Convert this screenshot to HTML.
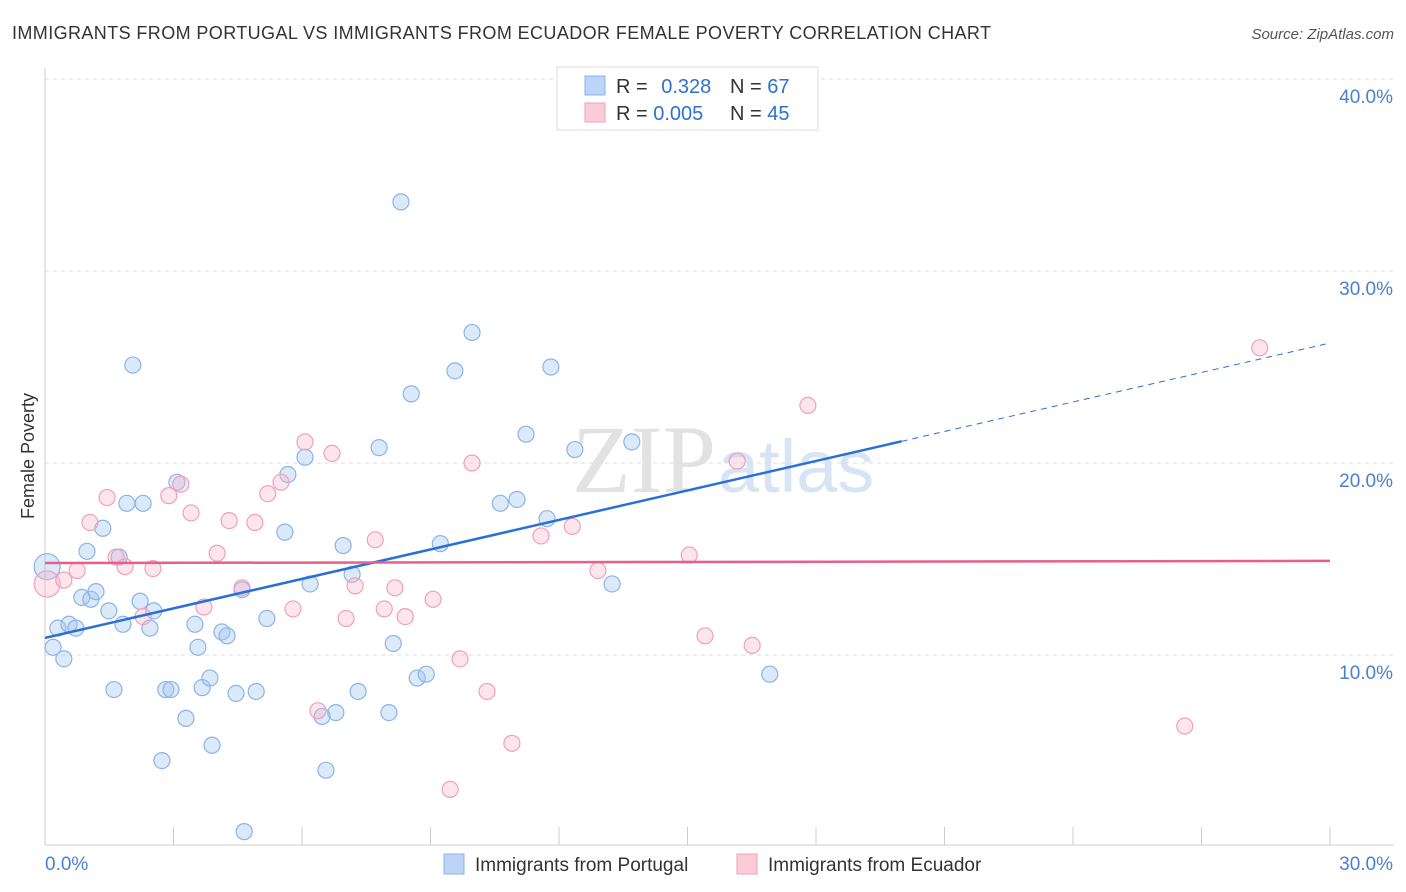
<!DOCTYPE html>
<html><head><meta charset="utf-8"><style>
body{margin:0;background:#fff;font-family:"Liberation Sans",sans-serif}
svg{display:block}
</style></head><body>
<svg id="chart" width="1406" height="892">
<text x="12" y="39" font-size="18" fill="#333" letter-spacing="0.4">IMMIGRANTS FROM PORTUGAL VS IMMIGRANTS FROM ECUADOR FEMALE POVERTY CORRELATION CHART</text>
<text x="1394" y="39" font-size="15" fill="#555" font-style="italic" text-anchor="end">Source: ZipAtlas.com</text>
<text x="34" y="456" font-size="18" fill="#333" text-anchor="middle" transform="rotate(-90 34 456)">Female Poverty</text>
<text x="716" y="492" font-size="96" fill="#e2e2e2" text-anchor="end" font-family="Liberation Serif,serif">ZIP</text>
<text x="718" y="492" font-size="74" fill="#d6e4f4">atlas</text>
<g id="grid"></g><g id="axes"></g><g id="pts"></g><g id="lines"></g>
<g>
<rect x="557" y="67" width="261" height="63" fill="#fff" stroke="#ddd"/>
<rect x="585" y="76" width="20" height="19" fill="#bcd4f5" stroke="#8ab4e8"/>
<rect x="585" y="103" width="20" height="19" fill="#fbcbd8" stroke="#f0a0b8"/>
<text x="616" y="93" font-size="20" fill="#333">R = <tspan fill="#2f6fd0" dx="8">0.328</tspan></text>
<text x="730" y="93" font-size="20" fill="#333">N = <tspan fill="#2f6fd0">67</tspan></text>
<text x="616" y="120" font-size="20" fill="#333">R = <tspan fill="#2f6fd0">0.005</tspan></text>
<text x="730" y="120" font-size="20" fill="#333">N = <tspan fill="#2f6fd0">45</tspan></text>
</g>
<g>
<rect x="444" y="854" width="20" height="20" fill="#bcd4f5" stroke="#8ab4e8"/>
<text x="475" y="871" font-size="19" fill="#333">Immigrants from Portugal</text>
<rect x="737" y="854" width="20" height="20" fill="#fbcbd8" stroke="#f0a0b8"/>
<text x="768" y="871" font-size="19" fill="#333">Immigrants from Ecuador</text>
</g>
</svg>
<script>
const blueX=[0.05,0.19,0.30,0.44,0.56,0.72,0.86,0.98,1.07,1.19,1.35,1.49,1.61,1.73,1.82,1.91,2.05,2.22,2.29,2.45,2.54,2.73,2.82,2.94,3.08,3.29,3.50,3.57,3.67,3.85,3.90,4.13,4.25,4.46,4.60,4.65,4.93,5.18,5.60,5.67,6.07,6.19,6.47,6.56,6.79,6.96,7.17,7.31,7.80,8.03,8.13,8.55,8.69,8.90,9.23,8.31,9.57,9.97,10.63,11.02,11.23,11.72,11.81,12.37,13.24,13.70,16.92];
const blueY=[14.6,10.4,11.4,9.8,11.6,11.4,13.0,15.4,12.9,13.3,16.6,12.3,8.2,15.1,11.6,17.9,25.1,12.8,17.9,11.4,12.3,4.5,8.2,8.2,19.0,6.7,11.6,10.4,8.3,8.8,5.3,11.2,11.0,8.0,13.4,0.8,8.1,11.9,16.4,19.4,20.3,13.7,6.8,4.0,7.0,15.7,14.2,8.1,20.8,7.0,10.6,23.6,8.8,9.0,15.8,33.6,24.8,26.8,17.9,18.1,21.5,17.1,25.0,20.7,13.7,21.1,9.0];
const pinkX=[0.05,0.44,0.75,1.05,1.45,1.66,1.87,2.29,2.52,2.89,3.17,3.41,3.71,4.02,4.30,4.60,4.90,5.20,5.51,5.79,6.07,6.37,6.70,7.03,7.24,7.71,7.92,8.17,8.41,9.06,9.46,9.69,9.97,10.32,10.90,11.58,12.31,12.91,15.04,15.41,16.16,16.51,17.81,26.61,28.36];
const pinkY=[13.7,13.9,14.4,16.9,18.2,15.1,14.6,12.0,14.5,18.3,18.9,17.4,12.5,15.3,17.0,13.5,16.9,18.4,19.0,12.4,21.1,7.1,20.5,11.9,13.6,16.0,12.4,13.5,12.0,12.9,3.0,9.8,20.0,8.1,5.4,16.2,16.7,14.4,15.2,11.0,20.1,10.5,23.0,6.3,26.0];
const blueTrend=[10.89,26.25];const blueSolidEnd=20.0;
const pinkTrend=[14.79,14.9];
const yTicks=[10,20,30,40];
const xTickLabels=["0.0%","30.0%"];
const NS="http://www.w3.org/2000/svg";
const X=v=>45+v/30*1285, Y=v=>847-v*19.2;
function mk(p,t,a){const e=document.createElementNS(NS,t);for(const k in a)e.setAttribute(k,a[k]);document.getElementById(p).appendChild(e);return e;}
yTicks.forEach(t=>{
 const l=mk('grid','line',{x1:45,x2:1394,y1:Y(t),y2:Y(t),stroke:'#ddd','stroke-dasharray':'4,4'});
 
 
 const tx=mk('grid','text',{x:1393,y:Y(t)+24,'font-size':19,fill:'#4a80d0','text-anchor':'end'});
 tx.textContent=t.toFixed(1)+'%';
 
 
});
mk('axes','line',{x1:45,x2:45,y1:68,y2:845,stroke:'#ccc'});
const ax=mk('axes','line',{x1:45,x2:1394,y1:845,y2:845,stroke:'#ccc'});


for(let i=0;i<=10;i++){mk('axes','line',{x1:X(i*3),x2:X(i*3),y1:827,y2:845,stroke:'#ccc'});}
const t0=mk('axes','text',{x:45,y:870,'font-size':19,fill:'#4a80d0'});t0.textContent=xTickLabels[0];


const t1=mk('axes','text',{x:1393,y:870,'font-size':19,fill:'#4a80d0','text-anchor':'end'});t1.textContent=xTickLabels[1];


blueX.forEach((v,i)=>{const c=mk('pts','circle',{cx:X(v),cy:Y(blueY[i]),r:i==0?13:8,fill:'rgba(160,196,240,0.38)',stroke:'#8ab4e8','stroke-width':1.2});
 
 });
pinkX.forEach((v,i)=>{const c=mk('pts','circle',{cx:X(v),cy:Y(pinkY[i]),r:i==0?13:8,fill:'rgba(245,180,200,0.35)',stroke:'#f0a0b8','stroke-width':1.2});
 
 });
const by=x=>blueTrend[0]+(blueTrend[1]-blueTrend[0])*x/30;
const b1=mk('lines','line',{x1:X(0),y1:Y(by(0)),x2:X(blueSolidEnd),y2:Y(by(blueSolidEnd)),stroke:'#2a6fd8','stroke-width':2.5});


const b2=mk('lines','line',{x1:X(blueSolidEnd),y1:Y(by(blueSolidEnd)),x2:X(30),y2:Y(by(30)),stroke:'#2a6fd8','stroke-width':1,'stroke-dasharray':'6,5'});


const p1=mk('lines','line',{x1:X(0),y1:Y(pinkTrend[0]),x2:X(30),y2:Y(pinkTrend[1]),stroke:'#e8608a','stroke-width':2.5});


</script>
</body></html>
